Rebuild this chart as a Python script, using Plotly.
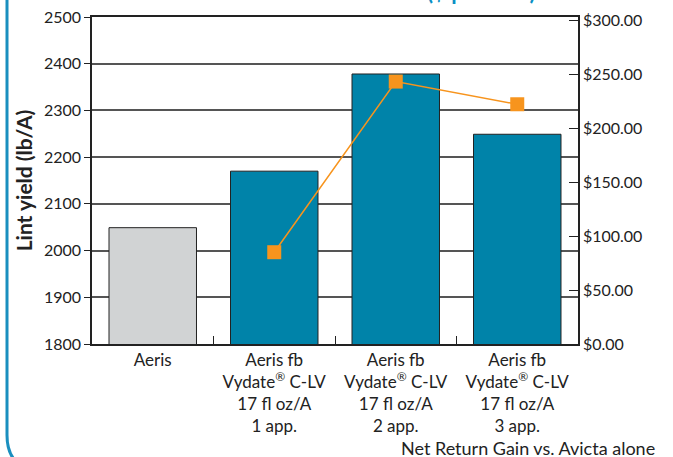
import plotly.graph_objects as go

REG = "<sup><span style='font-size:12px'>®</span></sup>"
categories = ["Aeris",
              "Aeris fb<br>Vydate" + REG + " C-LV<br>17 fl oz/A<br>1 app.",
              "Aeris fb<br>Vydate" + REG + " C-LV<br>17 fl oz/A<br>2 app.",
              "Aeris fb<br>Vydate" + REG + " C-LV<br>17 fl oz/A<br>3 app."]
lint_yield = [2049, 2170, 2378, 2249]
net_return = [None, 85, 243, 222]
yield_ticks = [1800, 1900, 2000, 2100, 2200, 2300, 2400, 2500]
return_ticks = [0, 50, 100, 150, 200, 250, 300]
return_labels = ["$%.2f" % v for v in return_ticks]
bar_colors = ["#d1d3d4", "#0083a9", "#0083a9", "#0083a9"]

FONT = "Lato"
W, H = 673, 457
L, R, T, B = 92, 95, 17, 113
pw, ph = W - L - R, H - T - B

def px(X):
    return (X - L) / pw

def py(Y):
    return (H - B - Y) / ph

fig = go.Figure()
fig.add_trace(go.Bar(x=categories, y=lint_yield, marker=dict(color=bar_colors, line=dict(color="#222222", width=1)),
                     width=0.72, yaxis="y", showlegend=False))
fig.add_trace(go.Scatter(x=categories, y=net_return, yaxis="y2", mode="lines+markers",
                         line=dict(color="#f7941d", width=1.5),
                         marker=dict(symbol="square", size=14, color="#f7941d"),
                         showlegend=False))

# rounded border
x0, x1, y0, y1, r = px(7), px(683), py(-20), py(470), 35
rx, ry = r / pw, r / ph
path = (f"M {x0},{y0} L {x0},{y1+ry} Q {x0},{y1} {x0+rx},{y1} "
        f"L {x1-rx},{y1} Q {x1},{y1} {x1},{y1+ry} L {x1},{y0}")
fig.add_shape(type="path", path=path, xref="paper", yref="paper",
              line=dict(color="#1a8fbf", width=3), layer="above")

fig.add_annotation(text="<b>Lint Yield and Net Return Gain ($ per acre)</b>", xref="paper", yref="paper",
                   x=px(330), y=py(6.5), xanchor="center", yanchor="bottom", showarrow=False,
                   font=dict(family=FONT, size=22, color="#0a8fc4"))
fig.add_annotation(text="Net Return Gain vs. Avicta alone", xref="paper", yref="paper",
                   x=px(657), y=py(448), xanchor="right", yanchor="middle", showarrow=False,
                   font=dict(family=FONT, size=18, color="#222222"))

fig.update_layout(
    width=W, height=H,
    margin=dict(l=L, r=R, t=T, b=B),
    paper_bgcolor="white", plot_bgcolor="white",
    font=dict(family=FONT, size=16, color="#222222"),
    bargap=0.28,
    xaxis=dict(showline=True, linecolor="#222222", linewidth=1.5, mirror=True,
               ticks="inside", tickson="boundaries", ticklen=8, tickcolor="#222222",
               tickfont=dict(size=17), showgrid=False, automargin=False),
    yaxis=dict(range=[1800, 2500], tickvals=yield_ticks, showline=True, linecolor="#222222",
               linewidth=1.5, ticks="outside", ticklen=6, tickcolor="#222222",
               showgrid=True, gridcolor="#555555", gridwidth=1.5,
               title=dict(text="<b>Lint yield (lb/A)</b>", font=dict(size=21), standoff=6),
               tickfont=dict(size=16), zeroline=False, automargin=False),
    yaxis2=dict(range=[0, 302.8], overlaying="y", side="right", tickvals=return_ticks,
                ticktext=return_labels, showline=True, linecolor="#222222", linewidth=1.5,
                ticks="inside", ticklen=9, tickcolor="#222222", showgrid=False,
                tickfont=dict(size=16), zeroline=False, automargin=False),
)

fig.write_html("out.html", config={"displayModeBar": False},
               post_script="document.body.style.margin='0';")
